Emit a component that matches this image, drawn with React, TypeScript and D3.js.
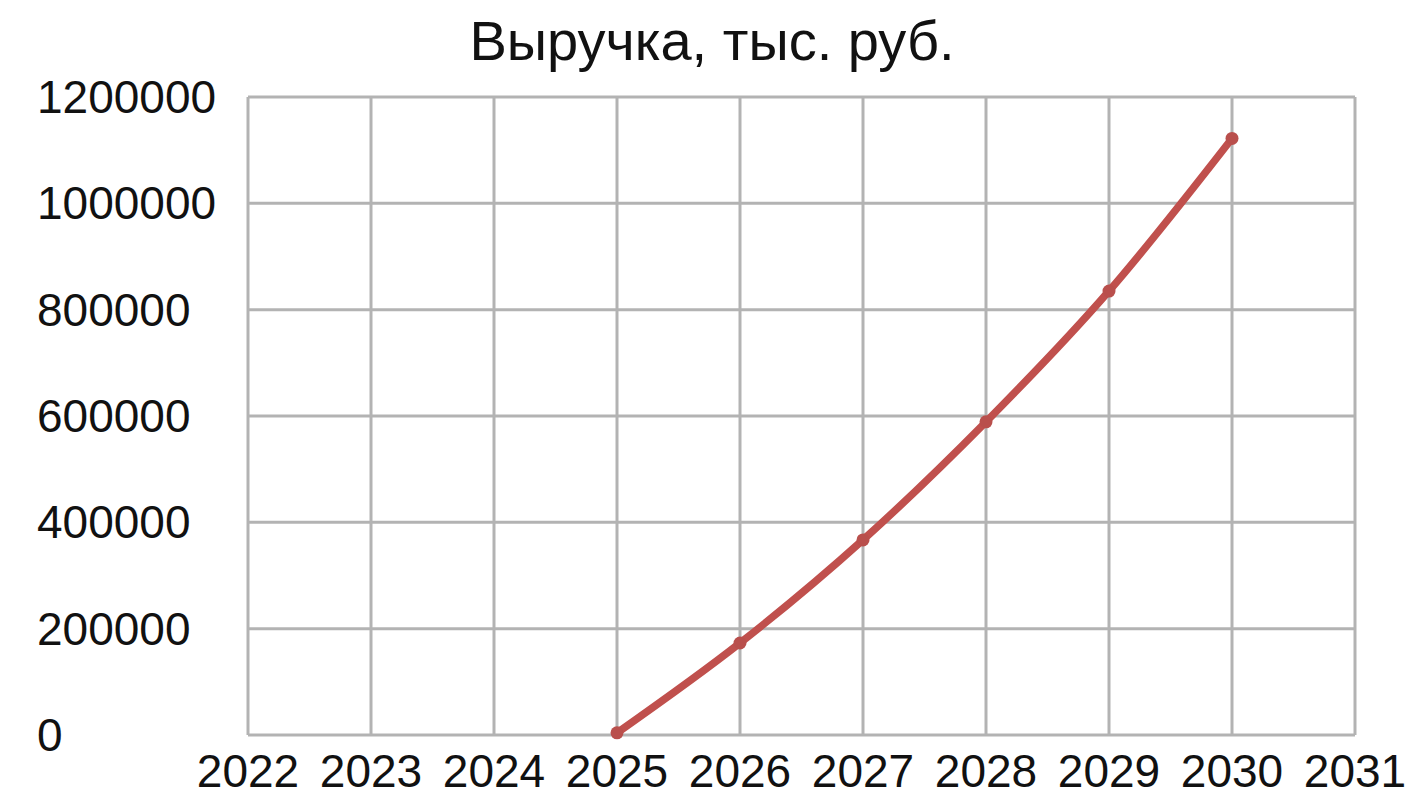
import { useRef, useEffect } from "react";
import * as d3 from "d3";

// data
const years = [2025, 2026, 2027, 2028, 2029, 2030];
const revenue = [4000, 173000, 367000, 589000, 835000, 1122000];
const xTicks = [2022, 2023, 2024, 2025, 2026, 2027, 2028, 2029, 2030, 2031];
const yTicks = [0, 200000, 400000, 600000, 800000, 1000000, 1200000];
const title = "Выручка, тыс. руб.";

const width = 1410;
const height = 798;
const margin = { top: 97, right: 55, bottom: 63, left: 248 };

function RevenueChart() {
  const svgRef = useRef(null);

  useEffect(() => {
    const svg = d3.select(svgRef.current);
    svg.selectAll("*").remove();

    const x = d3
      .scaleLinear()
      .domain([2022, 2031])
      .range([margin.left, width - margin.right]);

    const y = d3
      .scaleLinear()
      .domain([0, 1200000])
      .range([height - margin.bottom, margin.top]);

    const font = "'Liberation Sans', Arial, sans-serif";

    // grid
    svg
      .append("g")
      .selectAll("line")
      .data(yTicks)
      .join("line")
      .attr("x1", x(2022))
      .attr("x2", x(2031))
      .attr("y1", (d) => y(d))
      .attr("y2", (d) => y(d))
      .attr("stroke", "#b3b3b3")
      .attr("stroke-width", 3);

    svg
      .append("g")
      .selectAll("line")
      .data(xTicks)
      .join("line")
      .attr("x1", (d) => x(d))
      .attr("x2", (d) => x(d))
      .attr("y1", y(0))
      .attr("y2", y(1200000))
      .attr("stroke", "#b3b3b3")
      .attr("stroke-width", 3);

    // y labels, left aligned like the original
    svg
      .append("g")
      .selectAll("text")
      .data(yTicks)
      .join("text")
      .attr("x", 37)
      .attr("y", (d) => y(d))
      .attr("dy", "0.35em")
      .attr("text-anchor", "start")
      .attr("font-family", font)
      .attr("font-size", 46)
      .attr("fill", "#111")
      .text((d) => d);

    // x labels
    svg
      .append("g")
      .selectAll("text")
      .data(xTicks)
      .join("text")
      .attr("x", (d) => x(d))
      .attr("y", 787)
      .attr("text-anchor", "middle")
      .attr("font-family", font)
      .attr("font-size", 46)
      .attr("fill", "#111")
      .text((d) => d);

    // title
    svg
      .append("text")
      .attr("x", 712)
      .attr("y", 60)
      .attr("text-anchor", "middle")
      .attr("font-family", font)
      .attr("font-size", 56)
      .attr("fill", "#111")
      .text(title);

    // series
    const pts = years.map((yr, i) => [yr, revenue[i]]);
    const line = d3
      .line()
      .x((d) => x(d[0]))
      .y((d) => y(d[1]))
      .curve(d3.curveMonotoneX);

    svg
      .append("path")
      .datum(pts)
      .attr("d", line)
      .attr("fill", "none")
      .attr("stroke", "#c0504d")
      .attr("stroke-width", 7.5)
      .attr("stroke-linecap", "round");

    svg
      .append("g")
      .selectAll("circle")
      .data(pts)
      .join("circle")
      .attr("cx", (d) => x(d[0]))
      .attr("cy", (d) => y(d[1]))
      .attr("r", 6.5)
      .attr("fill", "#b94f4c");
  }, []);

  return <svg ref={svgRef} width={width} height={height} style={{ display: "block" }} />;
}

export default function App() {
  return (
    <div style={{ position: "absolute", left: 0, top: 0, background: "#fff" }}>
      <RevenueChart />
    </div>
  );
}
